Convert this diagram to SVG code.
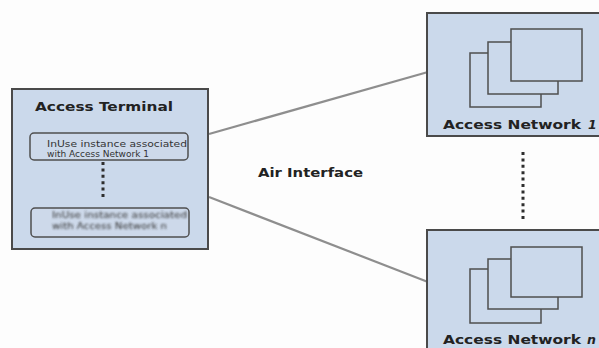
<svg xmlns="http://www.w3.org/2000/svg" width="599" height="348" viewBox="0 0 599 348">
  <defs>
    <style>
      .panel { fill: #cbd9eb; stroke: #4a4a4a; stroke-width: 2; }
      .card { fill: #cbd9eb; stroke: #4f4f4f; stroke-width: 1.5; }
      .inst { fill: #cdd9ea; stroke: #4f4f4f; stroke-width: 1.5; }
      .link { stroke: #8e8e8e; stroke-width: 2.2; fill: none; }
      .dots { stroke: #2e2e2e; stroke-width: 3; stroke-dasharray: 3 3.4; fill: none; }
      .title { font-family: "DejaVu Sans", "Liberation Sans", sans-serif; font-weight: bold; font-size: 12.5px; fill: #222; }
      .small { font-family: "DejaVu Sans", "Liberation Sans", sans-serif; font-size: 9.5px; fill: #333; }
    </style>
    <filter id="soft" x="-5%" y="-20%" width="110%" height="140%">
      <feGaussianBlur stdDeviation="0.9"/>
    </filter>
  </defs>

  <rect width="599" height="348" fill="#fdfdfd"/>

  <!-- radio links -->
  <g id="connectors">
    <line class="link" x1="209" y1="134" x2="428" y2="72"/>
    <line class="link" x1="209" y1="197" x2="428" y2="282"/>
    <line class="dots" x1="523" y1="152" x2="523" y2="219"/>
    <text class="title" x="258" y="177" textLength="105" lengthAdjust="spacingAndGlyphs">Air Interface</text>
  </g>

  <!-- terminal with its per-network instances -->
  <g id="access-terminal">
    <rect class="panel" x="12" y="89" width="196" height="160"/>
    <text class="title" x="35" y="111" textLength="138" lengthAdjust="spacingAndGlyphs">Access Terminal</text>
    <rect class="inst" x="30" y="133" width="158" height="27" rx="4"/>
    <text class="small" x="47" y="147" textLength="140" lengthAdjust="spacingAndGlyphs">InUse instance associated</text>
    <text class="small" x="47" y="157" textLength="102" lengthAdjust="spacingAndGlyphs">with Access Network 1</text>
    <line class="dots" x1="103" y1="162" x2="103" y2="200"/>
    <rect class="inst" x="31" y="208" width="158" height="29" rx="4"/>
    <g filter="url(#soft)">
      <text class="small" x="52" y="218" textLength="135" lengthAdjust="spacingAndGlyphs">InUse instance associated</text>
      <text class="small" x="52" y="229" textLength="115" lengthAdjust="spacingAndGlyphs">with Access Network n</text>
    </g>
  </g>

  <!-- first access network -->
  <g id="access-network-1">
    <rect class="panel" x="427" y="13" width="180" height="123"/>
    <rect class="card" x="470" y="53" width="71" height="54"/>
    <rect class="card" x="488" y="42" width="70" height="52"/>
    <rect class="card" x="511" y="29" width="71" height="52"/>
    <text class="title" x="443" y="129" textLength="138" lengthAdjust="spacingAndGlyphs">Access Network</text>
    <text class="title" x="588" y="129" font-style="italic">1</text>
  </g>

  <!-- n-th access network -->
  <g id="access-network-n">
    <rect class="panel" x="427" y="230" width="180" height="130"/>
    <rect class="card" x="470" y="269" width="71" height="54"/>
    <rect class="card" x="488" y="259" width="70" height="50"/>
    <rect class="card" x="511" y="247" width="71" height="50"/>
    <text class="title" x="443" y="344" textLength="138" lengthAdjust="spacingAndGlyphs">Access Network</text>
    <text class="title" x="587" y="344" font-style="italic">n</text>
  </g>
</svg>
